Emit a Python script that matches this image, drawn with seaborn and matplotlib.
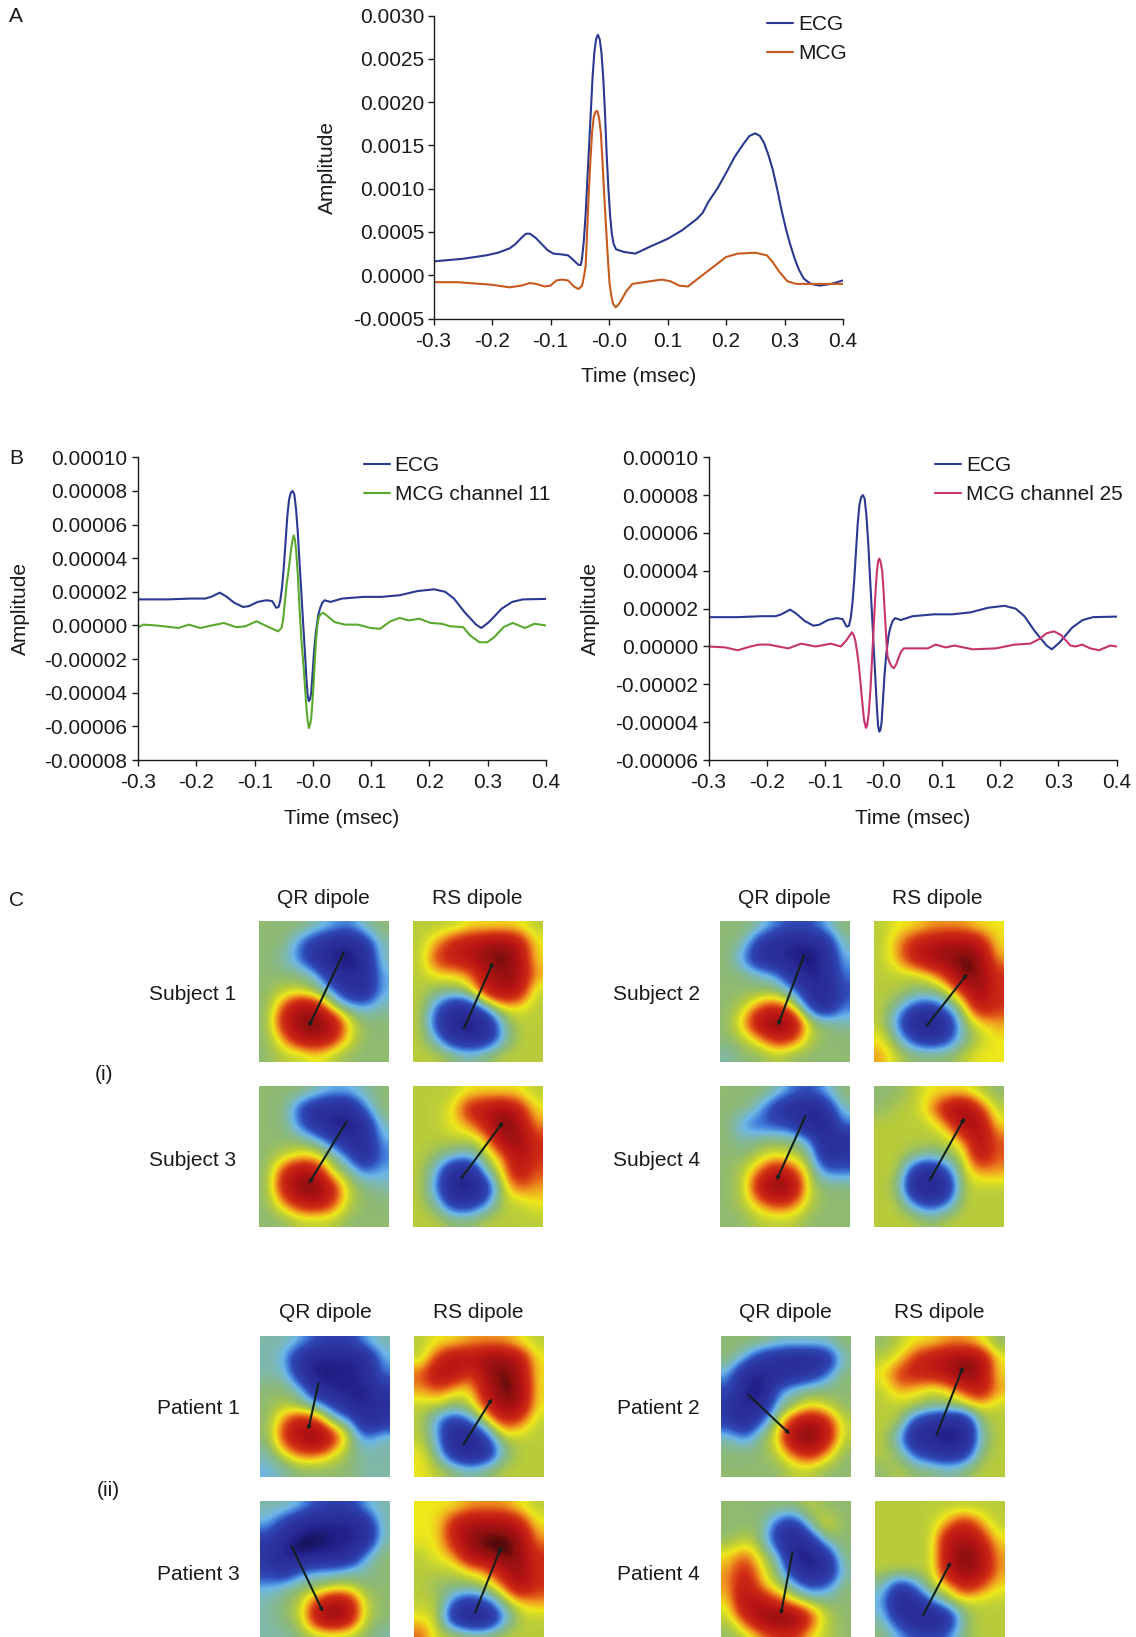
import matplotlib
matplotlib.use("Agg")
import matplotlib.pyplot as plt
from matplotlib.colors import LinearSegmentedColormap
import seaborn as sns

W, H = 1136, 1637

sns.set_theme(style="ticks")
plt.rcParams["font.family"] = ["Liberation Sans", "DejaVu Sans"]
plt.rcParams["axes.unicode_minus"] = False

# ---- panel A ----
A_ecg_t = [-.3,-.25,-.21,-.19,-.17,-.16,-.15,-.142,-.135,-.125,-.115,-.105,-.095,-.08,-.07,-.063,-.057,-.052,-.048,-.046,-.043,-.04,-.037,-.034,-.031,-.028,-.025,-.022,-.019,-.016,-.013,-.01,-.007,-.004,-.001,.002,.005,.008,.012,.025,.045,.07,.10,.125,.15,.16,.17,.185,.20,.215,.23,.24,.25,.258,.265,.272,.28,.288,.295,.303,.31,.318,.325,.333,.345,.36,.38,.40]
A_ecg_v = [.00016,.00019,.00023,.00026,.00031,.00036,.00043,.00048,.00048,.00043,.00036,.00029,.00025,.00024,.00023,.00019,.00015,.00012,.00012,.0002,.0004,.0007,.0011,.0015,.0019,.0023,.00258,.00273,.00278,.00273,.00258,.0023,.0019,.0014,.001,.00068,.00047,.00036,.0003,.00027,.00025,.00033,.00042,.00052,.00065,.00072,.00085,.001,.00118,.00137,.00152,.00161,.00164,.00161,.00153,.0014,.00122,.00098,.00075,.00052,.00035,.00018,.00006,-.00004,-.0001,-.00012,-.0001,-.00006]
A_mcg_t = [-.3,-.26,-.22,-.2,-.17,-.15,-.135,-.125,-.11,-.1,-.09,-.08,-.07,-.06,-.052,-.046,-.043,-.04,-.038,-.035,-.032,-.029,-.026,-.023,-.02,-.017,-.014,-.011,-.008,-.005,-.002,.001,.004,.007,.011,.015,.02,.03,.04,.06,.09,.105,.12,.135,.15,.175,.2,.22,.25,.27,.28,.29,.305,.32,.36,.4]
A_mcg_v = [-.00008,-.00008,-.0001,-.00011,-.00014,-.00012,-.00009,-.0001,-.00013,-.00012,-.00006,-.00005,-.00006,-.00013,-.00016,-.00012,-.00002,.0001,.0004,.0009,.0013,.00165,.00183,.00189,.0019,.00182,.00165,.0013,.0009,.00055,.0002,-.0001,-.00024,-.00033,-.00037,-.00035,-.0003,-.00018,-.0001,-.00008,-.00005,-.00007,-.00012,-.00013,-.00005,.00008,.00021,.00025,.00026,.00023,.00015,.00005,-.00007,-.0001,-.0001,-.0001]

# ---- panel B, values in units of 1e-5 ----
B_ecg_t = [-.3,-.25,-.21,-.185,-.175,-.16,-.15,-.135,-.12,-.11,-.095,-.08,-.07,-.063,-.059,-.056,-.053,-.05,-.047,-.044,-.041,-.038,-.035,-.032,-.029,-.026,-.023,-.02,-.017,-.014,-.011,-.009,-.007,-.005,-.003,-.001,.002,.005,.009,.012,.016,.02,.03,.05,.087,.118,.149,.18,.208,.227,.242,.26,.28,.289,.302,.324,.342,.36,.4]
B_ecg_v = [1.55,1.55,1.6,1.6,1.7,1.95,1.75,1.35,1.1,1.15,1.4,1.5,1.45,1.05,1.1,1.5,2.3,3.5,5.0,6.5,7.5,7.9,8.0,7.8,6.9,5.5,3.7,2.0,.2,-1.5,-3.3,-4.2,-4.5,-4.4,-4.0,-3.0,-1.5,-.4,.6,1.0,1.35,1.5,1.4,1.6,1.7,1.7,1.8,2.05,2.15,2.0,1.6,.8,.05,-.15,.2,1.0,1.4,1.55,1.58]
B_ch11_t = [-.3,-.291,-.269,-.231,-.213,-.194,-.153,-.132,-.116,-.097,-.079,-.06,-.054,-.051,-.048,-.045,-.041,-.038,-.035,-.033,-.031,-.029,-.026,-.023,-.02,-.016,-.013,-.011,-.009,-.007,-.005,-.003,-.001,.001,.003,.005,.0075,.01,.014,.018,.027,.037,.055,.077,.099,.115,.133,.149,.164,.183,.202,.221,.236,.258,.27,.286,.299,.311,.327,.343,.364,.38,.4]
B_ch11_v = [-.1,.05,0,-.15,.05,-.15,.15,-.1,-.05,.25,-.05,-.35,-.15,.4,1.5,2.5,3.5,4.4,5.1,5.35,5.1,4.5,3.0,1.0,-.8,-2.5,-4.0,-5.0,-5.7,-6.1,-5.9,-5.5,-4.6,-3.5,-2.2,-1.0,0,.5,.7,.75,.5,.2,.05,.05,-.15,-.2,.25,.45,.3,.4,.15,.1,-.05,-.1,-.6,-1.0,-1.0,-.7,-.1,.15,-.15,.1,0]
B_ch25_t = [-.3,-.271,-.25,-.228,-.213,-.197,-.163,-.141,-.116,-.09,-.073,-.064,-.054,-.051,-.048,-.045,-.042,-.039,-.036,-.033,-.03,-.028,-.025,-.022,-.02,-.0175,-.015,-.013,-.011,-.009,-.007,-.005,-.002,0,.003,.005,.007,.01,.014,.018,.022,.026,.03,.035,.063,.076,.09,.107,.122,.153,.193,.225,.252,.268,.28,.293,.305,.321,.33,.341,.355,.37,.389,.4]
B_ch25_v = [0,-.05,-.2,0,.1,.1,-.1,.15,0,.15,0,.3,.75,.6,.3,-.3,-1.0,-2.0,-3.0,-3.9,-4.3,-4.2,-3.5,-2.2,-1.0,.5,2.0,3.1,4.0,4.5,4.65,4.5,4.0,3.1,1.5,.4,-.5,-.8,-1.05,-1.15,-.95,-.6,-.3,-.1,-.1,-.1,.1,-.05,.05,-.15,-.1,.1,.15,.4,.7,.8,.6,.05,0,.1,-.1,-.2,.05,0]

x_ticks = [-.3,-.2,-.1,0,.1,.2,.3,.4]
x_labels = ["-0.3","-0.2","-0.1","-0.0","0.1","0.2","0.3","0.4"]
A_y_ticks = [-.0005,0,.0005,.001,.0015,.002,.0025,.003]
A_y_labels = ["-0.0005","0.0000","0.0005","0.0010","0.0015","0.0020","0.0025","0.0030"]
BL_y_ticks = [-8,-6,-4,-2,0,2,4,6,8,10]
BL_y_labels = ["-0.00008","-0.00006","-0.00004","-0.00002","0.00000","0.00002","0.00004","0.00006","0.00008","0.00010"]
BR_y_ticks = [-6,-4,-2,0,2,4,6,8,10]
BR_y_labels = ["-0.00006","-0.00004","-0.00002","0.00000","0.00002","0.00004","0.00006","0.00008","0.00010"]

# ---- dipole maps: field strength read on a coarse 8 x 9 grid (-10 .. 10) ----
S1_QR = [[0,0,0,-1,-2,-3,-1,0],[0,0,-3,-6,-8,-9,-6,-1],[0,-1,-3,-7,-9,-10,-8,-1],[0,0,0,-1,-7,-8,-8,-2],[0,1,1,0,-2,-7,-8,-2],[0,4,8,7,1,-1,-2,-1],[0,6,9,10,8,2,0,0],[0,3,7,8,6,2,0,0],[0,1,1,2,1,0,0,0]]
S1_RS = [[1,1,1,2,2,2,2,1],[1,3,6,7,8,9,7,2],[1,5,6,7,9,10,8,2],[1,2,2,3,7,9,8,3],[1,0,0,1,6,8,7,1],[1,-3,-7,-6,-1,2,2,1],[1,-5,-9,-10,-8,-1,1,1],[1,-2,-7,-8,-7,-2,1,1],[1,1,0,-1,0,1,1,1]]
S3_QR = [[0,0,0,-1,-2,-2,-1,0],[0,0,-4,-7,-8,-8,-3,0],[0,0,-3,-7,-9,-10,-7,-1],[0,0,0,-1,-4,-8,-8,-2],[0,1,2,2,0,-3,-8,-3],[0,5,8,7,1,0,-3,-2],[0,6,9,10,6,1,0,-1],[0,3,6,7,5,1,0,0],[0,0,1,1,1,0,0,0]]
S3_RS = [[1,1,1,2,2,2,2,1],[1,1,2,6,7,8,6,2],[1,1,2,3,6,10,8,3],[1,1,1,1,2,8,9,5],[1,0,-1,-2,1,3,8,5],[1,-2,-8,-8,-1,2,7,4],[1,-3,-9,-10,-6,1,4,3],[1,-1,-6,-6,-3,1,1,2],[1,1,0,0,1,1,1,1]]
S2_QR = [[0,0,-1,-3,-4,-4,-2,0],[0,-1,-6,-8,-9,-9,-7,-1],[0,-3,-7,-8,-9,-10,-8,-2],[0,0,-1,-2,-7,-9,-8,-3],[0,0,0,0,-2,-7,-9,-4],[0,1,4,5,2,-4,-8,-3],[0,3,8,10,8,1,0,-1],[0,1,3,6,5,1,0,0],[-1,0,0,1,0,0,0,0]]
S2_RS = [[1,2,2,3,3,3,2,2],[1,3,6,7,8,8,7,2],[1,3,6,8,9,10,9,3],[1,1,1,2,5,10,9,5],[1,1,0,0,1,5,9,5],[1,-1,-4,-5,-2,1,7,5],[1,-3,-9,-10,-7,0,2,3],[2,-1,-5,-7,-5,-1,1,2],[3,1,0,0,0,1,2,2]]
S4_QR = [[0,0,0,-1,-3,-4,-2,0],[0,0,-2,-6,-8,-9,-7,-1],[0,-3,-4,-4,-5,-9,-9,-3],[0,-1,0,0,0,-2,-8,-7],[0,0,1,2,1,0,-7,-6],[0,1,4,7,5,1,-3,-3],[0,1,7,10,8,1,0,0],[0,1,3,5,4,1,0,0],[0,0,1,1,1,0,0,0]]
S4_RS = [[0,0,1,2,2,2,1,0],[0,1,1,3,7,9,5,1],[1,1,1,1,3,8,8,2],[1,1,1,1,1,3,8,4],[1,1,0,-1,0,1,7,4],[1,1,-6,-8,-4,1,3,3],[1,0,-8,-10,-7,1,1,1],[1,1,-3,-5,-3,1,1,1],[1,1,1,0,1,1,1,1]]
P1_QR = [[-1,-1,-2,-4,-5,-5,-2,-1],[-1,-2,-7,-9,-9,-9,-8,-2],[-1,-1,-6,-10,-9,-9,-8,-3],[0,0,-1,-7,-9,-9,-9,-6],[0,1,0,-1,-4,-8,-9,-7],[0,4,7,5,0,-1,-8,-6],[0,5,8,10,6,1,-3,-1],[-1,2,4,4,2,0,-1,-1],[-2,-1,0,0,0,0,-1,-1]]
P1_RS = [[1,2,2,3,3,3,2,1],[1,5,8,7,9,9,7,2],[4,8,7,4,8,10,8,2],[3,4,2,2,7,10,9,2],[1,1,0,1,5,9,8,2],[1,-3,-6,-3,1,5,4,1],[1,-2,-9,-9,-4,1,1,1],[2,-1,-7,-9,-7,-1,1,1],[2,1,0,-1,0,1,1,1]]
P3_QR = [[-1,-1,-2,-4,-5,-5,-2,-1],[-2,-5,-8,-9,-9,-9,-7,-1],[-5,-8,-10,-10,-9,-9,-8,-1],[-6,-9,-10,-9,-9,-8,-2,0],[-5,-7,-3,-2,-2,-1,-1,0],[-2,-1,0,0,1,1,0,0],[-1,0,1,5,8,7,1,0],[-1,0,1,7,10,7,1,0],[-1,-1,0,1,1,1,0,-1]]
P3_RS = [[2,2,2,3,3,3,2,1],[2,2,6,8,8,8,6,2],[2,2,6,9,10,10,9,3],[1,2,3,8,9,10,9,5],[1,1,1,2,3,7,9,5],[1,0,0,0,1,3,8,5],[1,1,-4,-6,-4,0,2,3],[2,1,-7,-9,-9,-3,1,1],[4,1,1,0,0,1,1,1]]
P2_QR = [[0,0,0,-1,-1,-1,-1,0],[0,-2,-6,-7,-8,-8,-7,-1],[-2,-8,-9,-8,-7,-6,-3,0],[-4,-9,-10,-3,-1,0,0,0],[-6,-9,-8,-1,0,2,1,0],[-5,-8,-3,1,6,8,6,1],[-1,-3,0,2,9,10,7,1],[0,0,0,1,4,6,3,0],[0,0,0,0,1,1,0,0]]
P2_RS = [[0,1,2,2,3,3,2,0],[1,2,5,7,8,9,8,2],[2,5,6,6,7,10,8,2],[1,3,2,1,2,4,7,3],[1,1,1,0,0,1,2,1],[1,1,-5,-7,-8,-8,0,1],[1,-2,-8,-9,-10,-9,-1,1],[1,0,-4,-6,-7,-6,0,1],[0,1,0,0,-1,0,1,1]]
P4_QR = [[0,0,0,0,0,1,0,0],[0,0,0,-4,-6,0,2,0],[0,1,0,-6,-9,-6,0,0],[2,4,1,-1,-9,-10,-6,0],[3,6,2,0,-6,-9,-8,-1],[3,7,3,1,-1,-4,-3,0],[2,8,7,5,2,1,0,0],[1,5,9,10,10,5,1,0],[0,1,3,5,5,2,1,0]]
P4_RS = [[1,1,1,1,1,1,1,1],[1,1,1,1,3,6,3,1],[1,1,1,1,7,8,6,2],[1,1,1,1,7,10,8,3],[1,1,1,1,7,9,8,3],[-1,-6,-3,1,2,6,4,2],[-2,-9,-7,-3,0,1,1,1],[-1,-6,-9,-10,-7,0,1,1],[0,-2,-4,-5,-3,0,1,1]]

# dipole ends (start, end) as fractions of each map
S1_QR_dip = [(.655,.22),(.383,.748)]
S1_RS_dip = [(.396,.76),(.622,.289)]
S3_QR_dip = [(.676,.254),(.383,.694)]
S3_RS_dip = [(.378,.651),(.70,.254)]
S2_QR_dip = [(.649,.242),(.446,.741)]
S2_RS_dip = [(.409,.741),(.725,.372)]
S4_QR_dip = [(.66,.214),(.436,.67)]
S4_RS_dip = [(.434,.666),(.704,.224)]
P1_QR_dip = [(.454,.334),(.374,.666)]
P1_RS_dip = [(.383,.769),(.607,.44)]
P3_QR_dip = [(.246,.32),(.49,.788)]
P3_RS_dip = [(.473,.793),(.679,.32)]
P2_QR_dip = [(.209,.416),(.531,.694)]
P2_RS_dip = [(.473,.699),(.679,.216)]
P4_QR_dip = [(.549,.365),(.459,.807)]
P4_RS_dip = [(.37,.807),(.584,.431)]

FONT = 15.0
NAVY, ORANGE, GREEN, PINK = "#2b3990", "#c8591f", "#5aa92e", "#c7336c"

field_cmap = LinearSegmentedColormap.from_list("field", [
    (0.00, "#12104f"), (0.05, "#22208a"), (0.10, "#2a2c98"), (0.20, "#2b349f"),
    (0.30, "#3048b4"), (0.35, "#3f7ad8"), (0.40, "#6db6e8"), (0.45, "#7fb8a8"),
    (0.50, "#8fba72"), (0.55, "#b8cc3a"), (0.60, "#eee81a"), (0.65, "#f0a020"),
    (0.70, "#e05518"), (0.75, "#cc2a14"), (0.85, "#b81414"), (0.95, "#901010"),
    (1.00, "#3a0808")])

fig = plt.figure(figsize=(W / 100, H / 100), dpi=100, facecolor="white")


def add_axes(x0, y0, x1, y1):
    return fig.add_axes([x0 / W, 1 - y1 / H, (x1 - x0) / W, (y1 - y0) / H])


def label(x, y, s, ha="left"):
    fig.text(x / W, 1 - y / H, s, fontsize=FONT, ha=ha, va="center", color="#1a1a1a")


def line_panel(box, curves, yticks, ylabels, legend_xy, ylab_x, xlab_y, ypad):
    ax = add_axes(*box)
    for t, v, color, name in curves:
        sns.lineplot(x=t, y=v, ax=ax, color=color, label=name, lw=1.5,
                     sort=False, estimator=None, errorbar=None)
    ax.set_xlim(-.3, .4)
    ax.set_ylim(yticks[0], yticks[-1])
    ax.set_xticks(x_ticks, x_labels, fontsize=FONT, color="#1a1a1a")
    ax.set_yticks(yticks, ylabels, fontsize=FONT, color="#1a1a1a")
    ax.tick_params(length=4.2, width=1, direction="out", color="#1a1a1a")
    ax.tick_params(axis="x", pad=5.4)
    ax.tick_params(axis="y", pad=ypad)
    sns.despine(ax=ax)
    for side in ("left", "bottom"):
        ax.spines[side].set_linewidth(1)
        ax.spines[side].set_color("#1a1a1a")
    ax.set_xlabel("")
    ax.set_ylabel("")
    fig.text(ylab_x / W, 1 - (box[1] + box[3]) / 2 / H, "Amplitude", rotation=90,
             fontsize=FONT, ha="center", va="center", color="#1a1a1a")
    fig.text((box[0] + box[2]) / 2 / W, 1 - xlab_y / H, "Time (msec)",
             fontsize=FONT, ha="center", va="center", color="#1a1a1a")
    ax.legend(loc="upper left", bbox_to_anchor=(legend_xy[0] / W, 1 - legend_xy[1] / H),
              bbox_transform=fig.transFigure, frameon=False, fontsize=FONT,
              handlelength=1.25, handletextpad=0.25, labelspacing=0.5,
              borderpad=0, borderaxespad=0, labelcolor="#1a1a1a")


line_panel((433.5, 15.7, 843, 318.5),
           [(A_ecg_t, A_ecg_v, NAVY, "ECG"), (A_mcg_t, A_mcg_v, ORANGE, "MCG")],
           A_y_ticks, A_y_labels, (767, 15), 327, 376, 2.4)
line_panel((138.2, 457.3, 546, 760),
           [(B_ecg_t, B_ecg_v, NAVY, "ECG"), (B_ch11_t, B_ch11_v, GREEN, "MCG channel 11")],
           BL_y_ticks, BL_y_labels, (363.5, 456), 20, 818, 3.6)
line_panel((708.5, 457.3, 1116.5, 760),
           [(B_ecg_t, B_ecg_v, NAVY, "ECG"), (B_ch25_t, B_ch25_v, PINK, "MCG channel 25")],
           BR_y_ticks, BR_y_labels, (935, 456), 590, 818, 3.0)

label(9, 16, "A")
label(9, 458, "B")
label(9, 901, "C")
label(95, 1075, "(i)")
label(96.7, 1491, "(ii)")

map_boxes = [
    (259, 921, S1_QR, S1_QR_dip), (412.7, 921, S1_RS, S1_RS_dip),
    (720, 921, S2_QR, S2_QR_dip), (873.7, 921, S2_RS, S2_RS_dip),
    (259, 1085.7, S3_QR, S3_QR_dip), (412.7, 1085.7, S3_RS, S3_RS_dip),
    (720, 1085.7, S4_QR, S4_QR_dip), (873.7, 1085.7, S4_RS, S4_RS_dip),
    (259.7, 1336, P1_QR, P1_QR_dip), (413.7, 1336, P1_RS, P1_RS_dip),
    (721.3, 1336, P2_QR, P2_QR_dip), (875.3, 1336, P2_RS, P2_RS_dip),
    (259.7, 1500.7, P3_QR, P3_QR_dip), (413.7, 1500.7, P3_RS, P3_RS_dip),
    (721.3, 1500.7, P4_QR, P4_QR_dip), (875.3, 1500.7, P4_RS, P4_RS_dip),
]
for x0, y0, grid, dip in map_boxes:
    ax = add_axes(x0, y0, x0 + 129.5, y0 + 141.5)
    ax.imshow(grid, cmap=field_cmap, vmin=-10, vmax=10, aspect="auto",
              interpolation="bicubic", extent=(0, 1, 1, 0))
    ax.axis("off")
    ax.annotate("", xy=dip[1], xytext=dip[0],
                arrowprops=dict(arrowstyle="-|>,head_width=0.07,head_length=0.14",
                                color="#14201c", lw=1.5, shrinkA=0, shrinkB=0))

for y, xs in [(899, (323, 477.7, 784, 937.7)), (1313, (325, 478.7, 785, 939))]:
    label(xs[0], y, "QR dipole", "center")
    label(xs[1], y, "RS dipole", "center")
    label(xs[2], y, "QR dipole", "center")
    label(xs[3], y, "RS dipole", "center")

label(149, 995, "Subject 1")
label(149, 1161, "Subject 3")
label(612.7, 995, "Subject 2")
label(612.7, 1161, "Subject 4")
label(157, 1409, "Patient 1")
label(157, 1575, "Patient 3")
label(617, 1409, "Patient 2")
label(617, 1575, "Patient 4")

fig.savefig("out.png", dpi=100)
